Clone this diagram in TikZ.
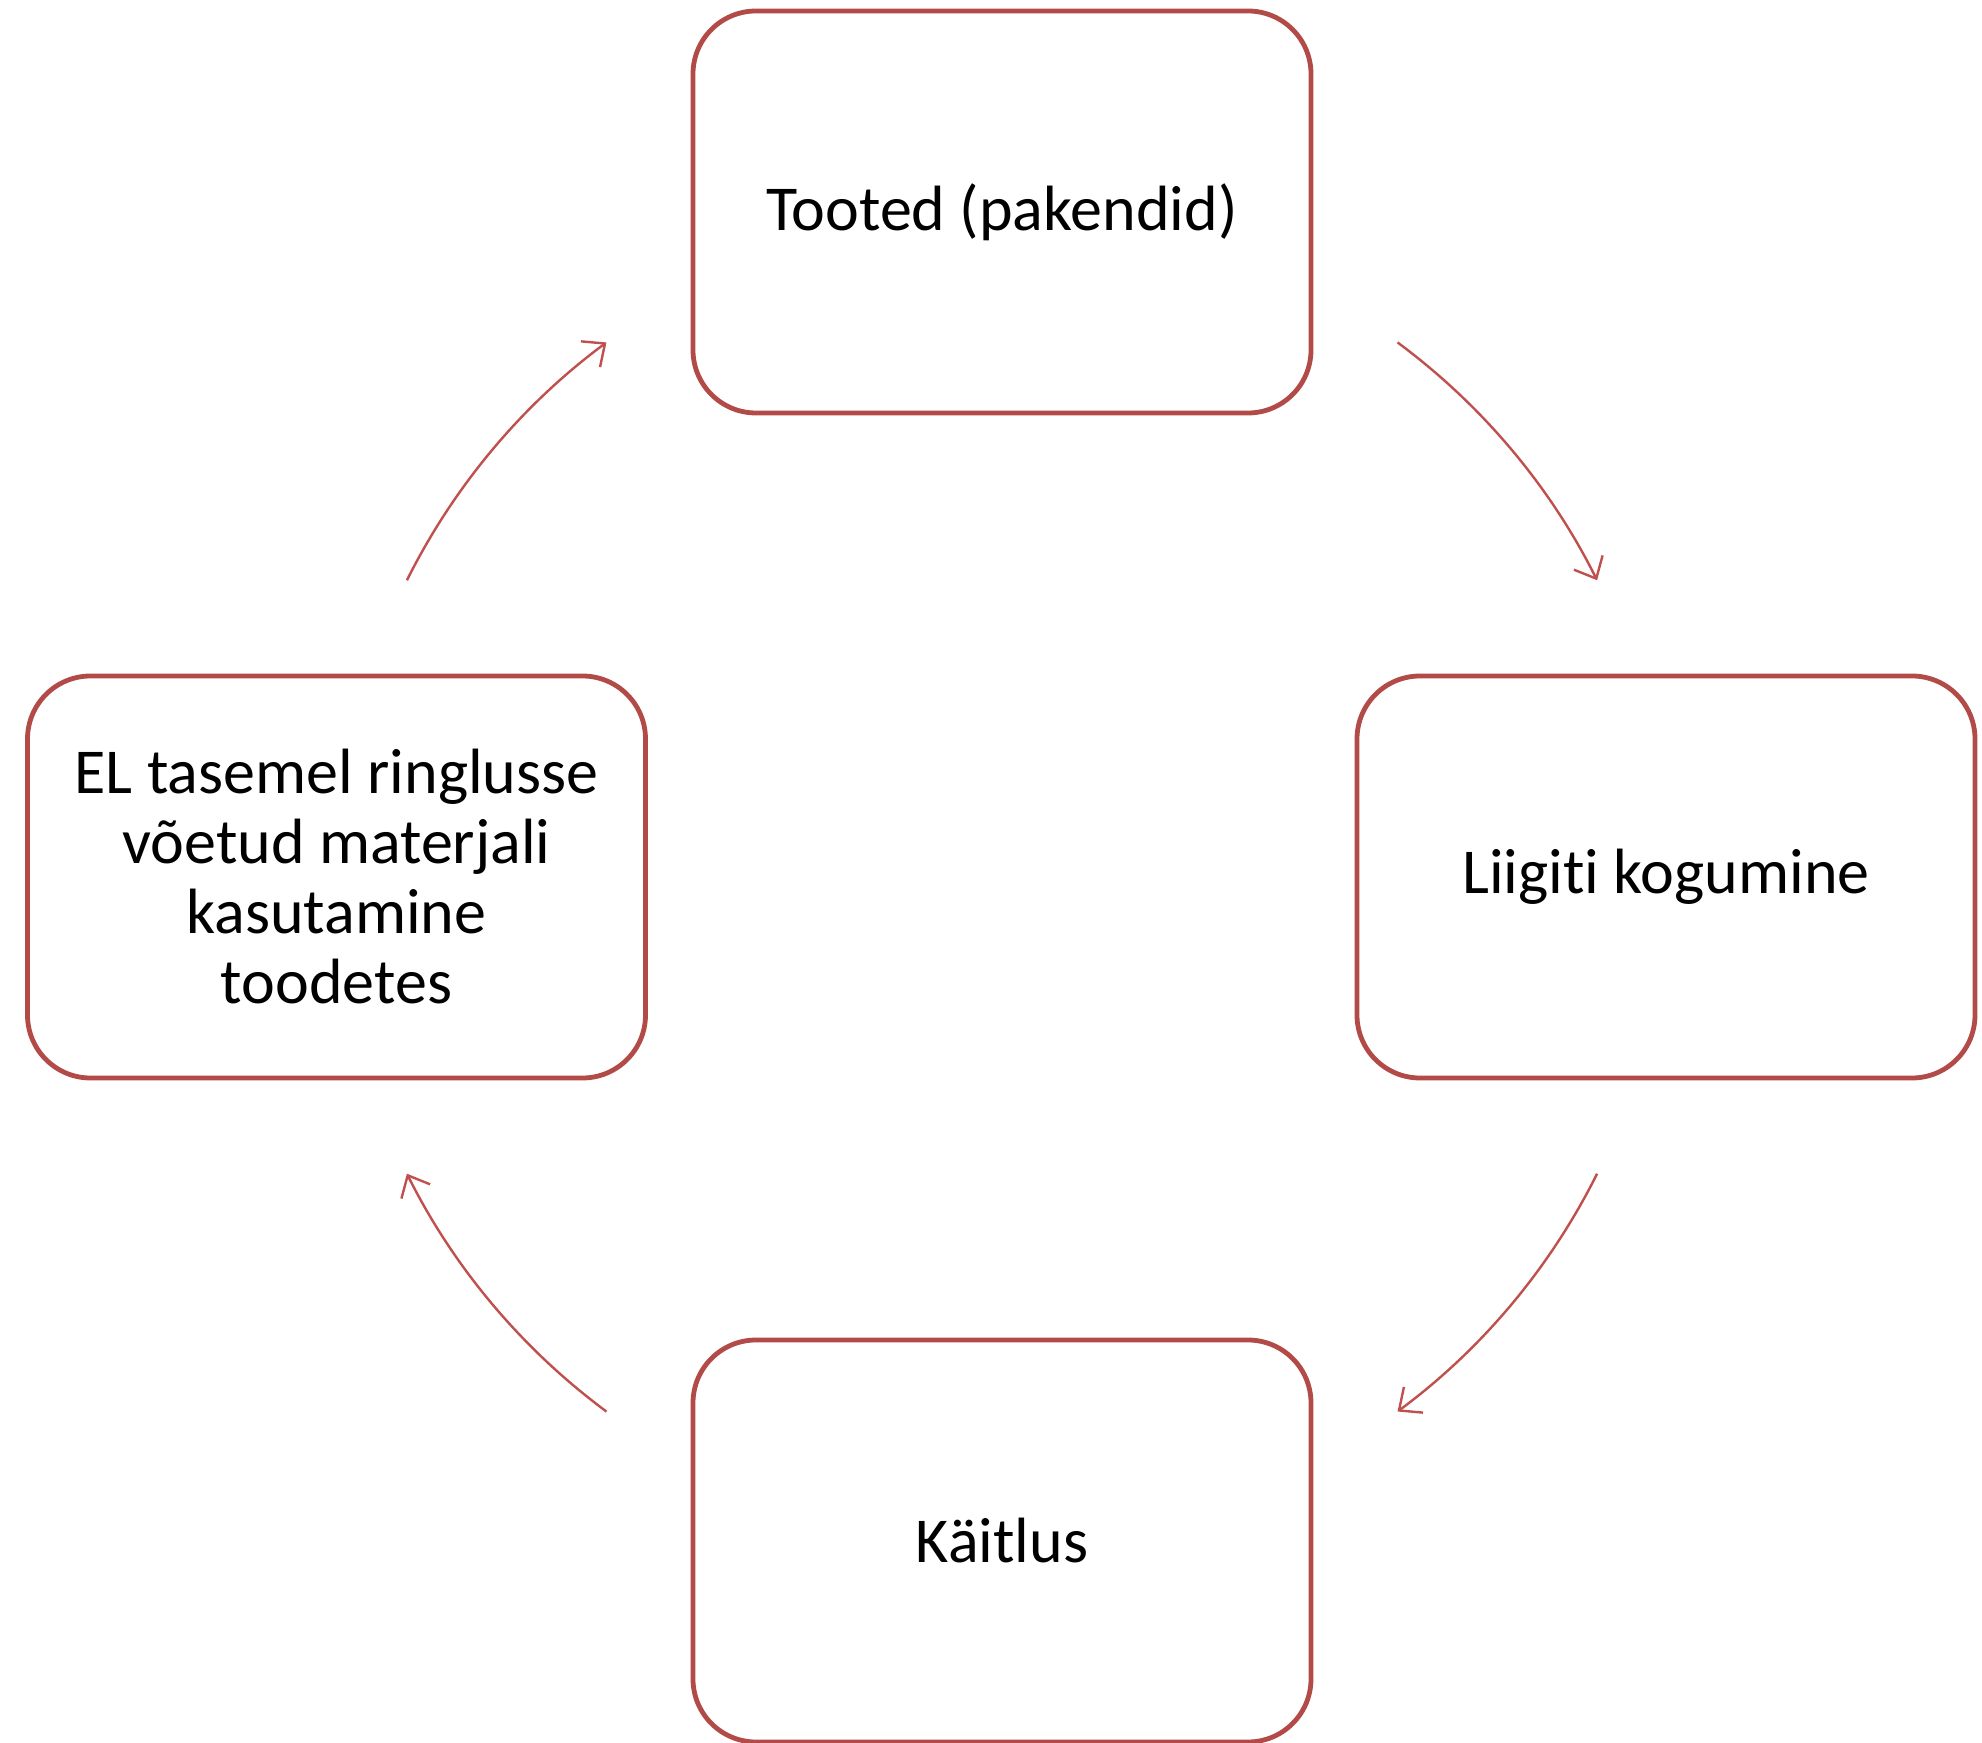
\documentclass[tikz,border=0pt]{standalone}
\usepackage{fontspec}
\setmainfont{Carlito}[Ligatures=NoCommon]
\usetikzlibrary{arrows.meta}
\definecolor{boxc}{RGB}{178,74,72}
\definecolor{arrc}{RGB}{192,80,77}
\begin{document}
\begin{tikzpicture}[x=0.5pt,y=0.5pt,
  stagebox/.style={draw=boxc, line width=2.4pt, rounded corners=31.5pt, fill=white,
    minimum width=309pt, minimum height=201pt, inner sep=0pt, align=center,
    font=\fontsize{32}{35}\selectfont},
  cyc/.style={draw=arrc, line width=1.2pt, -{Straight Barb[length=9pt,width=16pt,line width=1.2pt]}}]
\useasboundingbox (0,0) rectangle (1982,1742);
\coordinate (C) at (1002,865);
\node[stagebox] (top) at (1002,1530) {Tooted (pakendid)};
\node[stagebox] (right) at (1666,865) {Liigiti kogumine};
\node[stagebox] (bottom) at (1002,201) {Käitlus};
\node[stagebox] (left) at (336.5,865) {EL tasemel ringlusse\\võetud materjali\\kasutamine\\toodetes};
\draw[cyc] (C) ++(53.5:665) coordinate (s1) arc[start angle=53.5, end angle=26.5, radius=665];
\draw[cyc] (C) ++(-26.5:665) coordinate (s2) arc[start angle=-26.5, end angle=-53.5, radius=665];
\draw[cyc] (C) ++(-126.5:665) coordinate (s3) arc[start angle=-126.5, end angle=-153.5, radius=665];
\draw[cyc] (C) ++(153.5:665) coordinate (s4) arc[start angle=153.5, end angle=126.5, radius=665];
\end{tikzpicture}
\end{document}
